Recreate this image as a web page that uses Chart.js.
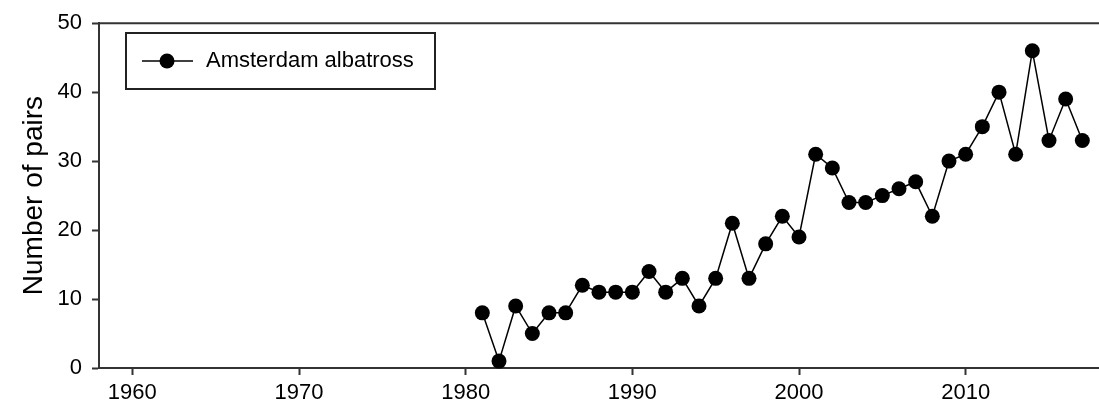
<!DOCTYPE html>
<html>
<head>
<meta charset="utf-8">
<script src="https://cdn.jsdelivr.net/npm/chart.js@4.4.1/dist/chart.umd.min.js"></script>
<style>
  body { margin: 0; background: #fff; }
  #wrap { width: 1099px; height: 411px; }
</style>
</head>
<body>
<div id="wrap"><canvas id="mycanvas" width="1099" height="411"></canvas></div>
<script>
// breeding pairs per year
var years = [1981, 1982, 1983, 1984, 1985, 1986, 1987, 1988, 1989, 1990,
             1991, 1992, 1993, 1994, 1995, 1996, 1997, 1998, 1999, 2000,
             2001, 2002, 2003, 2004, 2005, 2006, 2007, 2008, 2009, 2010,
             2011, 2012, 2013, 2014, 2015, 2016, 2017];
var pairs = [8, 1, 9, 5, 8, 8, 12, 11, 11, 11,
             14, 11, 13, 9, 13, 21, 13, 18, 22, 19,
             31, 29, 24, 24, 25, 26, 27, 22, 30, 31,
             35, 40, 31, 46, 33, 39, 33];
var xTicks = [1960, 1970, 1980, 1990, 2000, 2010];
var yTicks = [0, 10, 20, 30, 40, 50];
var seriesName = 'Amsterdam albatross';

var fontFam = '"Liberation Sans", Arial, sans-serif';
var axisCol = '#333';

var points = [];
for (var i in years) {
  points.push({x: years[i], y: pairs[i]});
}

// frame top edge + legend box
var extras = {
  id: 'extras',
  afterDraw: function(chart) {
    var ctx = chart.ctx;
    var a = chart.chartArea;
    ctx.save();
    ctx.strokeStyle = axisCol;
    ctx.lineWidth = 2;
    ctx.beginPath();
    ctx.moveTo(a.left, a.top);
    ctx.lineTo(a.right, a.top);
    ctx.stroke();

    // legend
    ctx.strokeStyle = '#222';
    ctx.lineWidth = 2;
    ctx.strokeRect(126, 33, 309, 56);
    ctx.strokeStyle = '#000';
    ctx.lineWidth = 1.5;
    ctx.beginPath();
    ctx.moveTo(142, 61);
    ctx.lineTo(193, 61);
    ctx.stroke();
    ctx.fillStyle = '#000';
    ctx.beginPath();
    ctx.arc(167, 61, 7.5, 0, Math.PI * 2);
    ctx.fill();
    ctx.font = '22px ' + fontFam;
    ctx.textBaseline = 'middle';
    ctx.fillText(seriesName, 206, 61);
    ctx.restore();
  }
};

var ctx = document.getElementById('mycanvas');
var chart = new Chart(ctx, {
  type: 'line',
  data: {
    datasets: [{
      label: seriesName,
      data: points,
      borderColor: '#000',
      borderWidth: 1.5,
      backgroundColor: '#000',
      pointRadius: 7.5,
      pointBorderWidth: 0,
      pointBackgroundColor: '#000',
      tension: 0,
      clip: false
    }]
  },
  options: {
    responsive: false,
    animation: false,
    layout: { autoPadding: false, padding: { top: 18, right: 0, left: 0, bottom: 0 } },
    plugins: { legend: { display: false }, tooltip: { enabled: false } },
    scales: {
      x: {
        type: 'linear',
        min: 1958,
        max: 2018,
        afterBuildTicks: function(s) { s.ticks = xTicks.map(function(v){ return {value: v}; }); },
        afterFit: function(s) { s.height = 43; s.paddingRight = 0; s.paddingLeft = 0; },
        grid: { drawOnChartArea: false, drawTicks: true, tickLength: 7, tickColor: axisCol, tickWidth: 2 },
        border: { display: true, color: axisCol, width: 2 },
        ticks: {
          color: '#000', font: { family: fontFam, size: 22 }, padding: 5, maxRotation: 0, autoSkip: false,
          callback: function(v) { return String(v); }
        }
      },
      y: {
        min: 0,
        max: 50,
        afterBuildTicks: function(s) { s.ticks = yTicks.map(function(v){ return {value: v}; }); },
        afterFit: function(s) { s.width = 99; },
        grid: { drawOnChartArea: false, drawTicks: true, tickLength: 7, tickColor: axisCol, tickWidth: 2 },
        border: { display: true, color: axisCol, width: 2 },
        ticks: { color: '#000', font: { family: fontFam, size: 22 }, padding: 10 },
        title: {
          display: true,
          text: 'Number of pairs',
          color: '#000',
          font: { family: fontFam, size: 28 },
          padding: { top: 17, bottom: 0 }
        }
      }
    }
  },
  plugins: [extras]
});
</script>
</body>
</html>
